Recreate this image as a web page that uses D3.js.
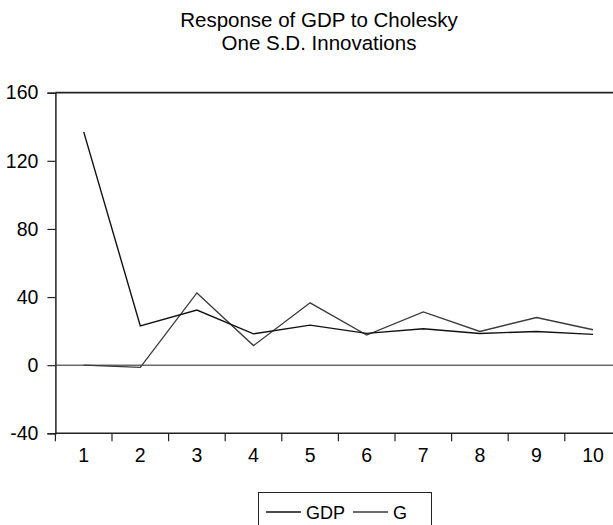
<!DOCTYPE html>
<html>
<head>
<meta charset="utf-8">
<script src="https://cdn.jsdelivr.net/npm/d3@7"></script>
<style>
html,body{margin:0;padding:0;background:#fff;}
svg{display:block;}
text{font-family:"Liberation Sans",Arial,sans-serif;fill:#000;}
</style>
</head>
<body>
<svg id="chart" width="613" height="525"></svg>
<script>
const titleLines = ["Response of GDP to Cholesky", "One S.D. Innovations"];
const periods = ["1","2","3","4","5","6","7","8","9","10"];
const gdpValues = [137, 23.1, 32.4, 18.4, 23.5, 18.7, 21.4, 18.6, 19.8, 18.1];
const gValues = [0, -1.3, 42.4, 11.5, 36.6, 17.7, 31.3, 19.8, 28.0, 20.8];
const yTicks = [-40, 0, 40, 80, 120, 160];
const yTickLabels = ["-40", "0", "40", "80", "120", "160"];
const seriesNames = ["GDP", "G"];

(function () {
const svg = d3.select("#chart");
const pLeft = 55.4, pRight = 621.4, pTop = 92.7, pBottom = 433.3;

const x = d3.scaleBand().domain(periods).range([pLeft, pRight]).padding(0);
const y = d3.scaleLinear().domain([-40, 160]).range([pBottom, pTop]);

// title
svg.append("g").selectAll("text").data(titleLines).join("text")
  .attr("x", 319).attr("y", (d, i) => 27 + i * 22.5)
  .attr("text-anchor", "middle").attr("font-size", 20.5).text(d => d);

// left axis
const yAxis = d3.axisLeft(y).tickValues(yTicks).tickSize(8).tickPadding(9)
  .tickFormat((d, i) => yTickLabels[i]);
const gy = svg.append("g").attr("transform", `translate(${pLeft},0)`).call(yAxis);
gy.select(".domain").attr("stroke", "#222").attr("stroke-width", 1.5);
gy.selectAll(".tick line").attr("stroke", "#222").attr("stroke-width", 1.2);
gy.selectAll(".tick text").attr("font-size", 19.5).attr("font-family", "Liberation Sans, Arial, sans-serif").attr("fill", "#000");

// bottom axis: ticks at band boundaries, labels at centers
const gx = svg.append("g").attr("transform", `translate(0,${pBottom})`);
gx.append("line").attr("x1", pLeft).attr("x2", pRight).attr("stroke", "#222").attr("stroke-width", 1.5);
gx.selectAll("line.tk").data(periods).join("line").attr("class", "tk")
  .attr("x1", d => x(d)).attr("x2", d => x(d)).attr("y1", 0).attr("y2", 8)
  .attr("stroke", "#222").attr("stroke-width", 1.2);
gx.selectAll("text").data(periods).join("text")
  .attr("x", d => x(d) + x.bandwidth() / 2).attr("y", 29)
  .attr("text-anchor", "middle").attr("font-size", 19.5).text(d => d);

// top frame
svg.append("line").attr("x1", pLeft).attr("x2", pRight).attr("y1", pTop).attr("y2", pTop)
  .attr("stroke", "#222").attr("stroke-width", 1.8);

// zero line
svg.append("line").attr("x1", pLeft).attr("x2", pRight).attr("y1", y(0)).attr("y2", y(0))
  .attr("stroke", "#222").attr("stroke-width", 1);

const line = d3.line().x((d, i) => x(periods[i]) + x.bandwidth() / 2).y(d => y(d));
svg.append("path").datum(gValues).attr("d", line).attr("fill", "none")
  .attr("stroke", "#3a3a3a").attr("stroke-width", 1.3);
svg.append("path").datum(gdpValues).attr("d", line).attr("fill", "none")
  .attr("stroke", "#111").attr("stroke-width", 1.4);

// legend
const lg = svg.append("g");
lg.append("rect").attr("x", 258.5).attr("y", 492.5).attr("width", 173).attr("height", 40)
  .attr("fill", "#fff").attr("stroke", "#222").attr("stroke-width", 1);
const legendItems = [
  {name: seriesNames[0], x: 266, color: "#111"},
  {name: seriesNames[1], x: 353, color: "#3a3a3a"}
];
legendItems.forEach(it => {
  lg.append("line").attr("x1", it.x).attr("x2", it.x + 35).attr("y1", 512).attr("y2", 512)
    .attr("stroke", it.color).attr("stroke-width", 1.3);
  lg.append("text").attr("x", it.x + 40).attr("y", 518.5).attr("font-size", 18).text(it.name);
});
})();
</script>
</body>
</html>
